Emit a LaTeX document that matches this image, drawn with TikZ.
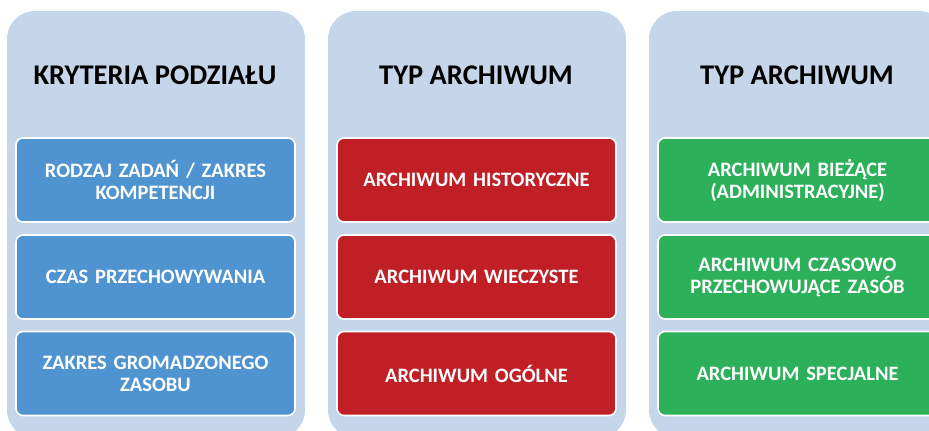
\documentclass[tikz,border=0pt]{standalone}
\usepackage{fontspec}
\setmainfont{Carlito}
\usetikzlibrary{positioning}
\definecolor{panelfill}{HTML}{C5D6EA}
\definecolor{boxblue}{HTML}{4F94D0}
\definecolor{boxred}{HTML}{C01F26}
\definecolor{boxgreen}{HTML}{2CB05A}
\tikzset{ panel/.style = { rectangle
                         , fill         = panelfill
                         , rounded corners = 28pt
                         , minimum width  = 298pt
                         , minimum height = 427pt
                         },
            head/.style = { font = \bfseries\fontsize{28.5}{32}\selectfont
                          , text = black
                          },
            cell/.style = { rectangle
                          , draw = white
                          , line width   = 1.6pt
                          , rounded corners = 7pt
                          , minimum width  = 279pt
                          , minimum height = 84pt
                          , text width     = 272pt
                          , align = center
                          , text = white
                          , font = \bfseries\fontsize{20.5}{22}\selectfont
                          }
          }

\begin{document}
\begin{tikzpicture}[x=1pt, y=-1pt]
    \useasboundingbox (0,0) rectangle (929,431);
    \clip (0,0) rectangle (929,431);
    % kryteria
    \node[panel] (p1) at (156,224.5) {};
    \node[head]  (h1) at (155,75) {KRYTERIA PODZIAŁU};
    \node[cell, fill=boxblue] (b11) at (155.5,180)   {RODZAJ ZADAŃ / ZAKRES\\KOMPETENCJI};
    \node[cell, fill=boxblue] (b12) at (155.5,277)   {CZAS PRZECHOWYWANIA};
    \node[cell, fill=boxblue] (b13) at (155.5,373.5) {ZAKRES GROMADZONEGO\\ZASOBU};
    \begin{scope}[xshift=321pt]
    \node[panel] (p2) at (156,224.5) {};
    \node[head]  (h2) at (155,75) {TYP ARCHIWUM};
    \node[cell, fill=boxred] (b21) at (155.5,180)   {ARCHIWUM HISTORYCZNE};
    \node[cell, fill=boxred] (b22) at (155.5,277)   {ARCHIWUM WIECZYSTE};
    \node[cell, fill=boxred] (b23) at (155.5,373.5) {ARCHIWUM OGÓLNE};
    \end{scope}
    \begin{scope}[xshift=642pt]
    \node[panel] (p3) at (156,224.5) {};
    \node[head]  (h3) at (155,75) {TYP ARCHIWUM};
    \node[cell, fill=boxgreen] (b31) at (155.5,180)   {ARCHIWUM BIEŻĄCE\\(ADMINISTRACYJNE)};
    \node[cell, fill=boxgreen] (b32) at (155.5,277)   {ARCHIWUM CZASOWO\\PRZECHOWUJĄCE ZASÓB};
    \node[cell, fill=boxgreen] (b33) at (155.5,373.5) {ARCHIWUM SPECJALNE};
    \end{scope}
\end{tikzpicture}
\end{document}
